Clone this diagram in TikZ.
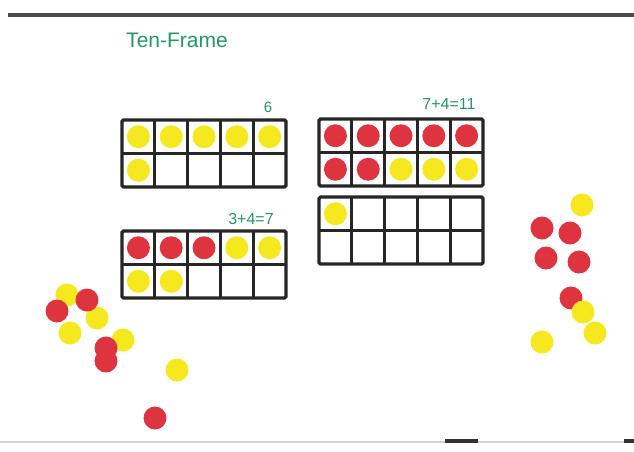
\documentclass[tikz,border=0pt]{standalone}
\usepackage{fontspec}
\setmainfont{Liberation Sans}
\definecolor{chipRed}{RGB}{222,52,64}
\definecolor{chipYellow}{RGB}{246,232,30}
\definecolor{markerGreen}{RGB}{38,150,100}
\definecolor{frameLine}{gray}{0.15}
\definecolor{boardEdge}{gray}{0.3}
\newcommand{\tenframe}[3]{% #1,#2 = top-left corner, #3 = name
	\coordinate (#3) at (#1,#2);
	\draw[frameLine, line width=3.2pt, rounded corners=1.5pt] (#1,#2) rectangle (#1+164,#2+67);
	\foreach \i in {1,...,4}
		\draw[frameLine, line width=2.8pt] (#1+\i*32.8,#2) -- (#1+\i*32.8,#2+67);
	\draw[frameLine, line width=2.8pt] (#1,#2+33.5) -- (#1+164,#2+33.5);
}
\newcommand{\chiprow}[4]{% #1,#2 = corner, #3 = row, #4 = colours from the left
	\foreach \c [count=\k] in {#4}
		\fill[\c] (#1+\k*32.8-16.4,#2+#3*33.5-16.75) circle (11.5pt);
}
\begin{document}
\begin{tikzpicture}[x=1pt,y=-1pt]
	\useasboundingbox (0,0) rectangle (634,451);
	\fill[white] (0,0) rectangle (634,451);

	% Board edges
	\draw[boardEdge, line width=4pt] (8,15) -- (634,15);
	\draw[gray!35, line width=1.5pt] (0,442) -- (634,442);
	\draw[black!80, line width=4pt] (445,441) -- (478,441);
	\draw[black!80, line width=4pt] (624,441) -- (634,441);

	% Labels
	\node[text=markerGreen, font=\fontsize{21}{24}\selectfont] (title) at (177,40) {Ten-Frame};
	\node[text=markerGreen, font=\fontsize{15}{18}\selectfont] (six) at (268,107) {6};
	\node[text=markerGreen, font=\fontsize{16}{19}\selectfont] (sumA) at (449,104) {7+4=11};
	\node[text=markerGreen, font=\fontsize{16}{19}\selectfont] (sumB) at (251,219) {3+4=7};

	% Counters in the frames
	\chiprow{122}{120}{1}{chipYellow,chipYellow,chipYellow,chipYellow,chipYellow}
	\chiprow{122}{120}{2}{chipYellow}
	\chiprow{319}{119}{1}{chipRed,chipRed,chipRed,chipRed,chipRed}
	\chiprow{319}{119}{2}{chipRed,chipRed,chipYellow,chipYellow,chipYellow}
	\chiprow{319}{197}{1}{chipYellow}
	\chiprow{122}{231}{1}{chipRed,chipRed,chipRed,chipYellow,chipYellow}
	\chiprow{122}{231}{2}{chipYellow,chipYellow}

	% Ten-frames
	\tenframe{122}{120}{frameSix}
	\tenframe{319}{119}{frameSeven}
	\tenframe{319}{197}{frameFour}
	\tenframe{122}{231}{frameThree}

	% Loose counters, left
	\foreach \x/\y in {67/295, 97/318, 70/333, 123/340, 177/370}
		\fill[chipYellow] (\x,\y) circle (11.5pt);
	\foreach \x/\y in {57/311, 87/300, 106/348, 106/361, 155/418}
		\fill[chipRed] (\x,\y) circle (11.5pt);

	% Loose counters, right
	\foreach \x/\y in {542/228, 570/233, 546/258, 579/262, 571/298}
		\fill[chipRed] (\x,\y) circle (11.5pt);
	\foreach \x/\y in {582/205, 583/312, 595/333, 542/342}
		\fill[chipYellow] (\x,\y) circle (11.5pt);
\end{tikzpicture}
\end{document}
